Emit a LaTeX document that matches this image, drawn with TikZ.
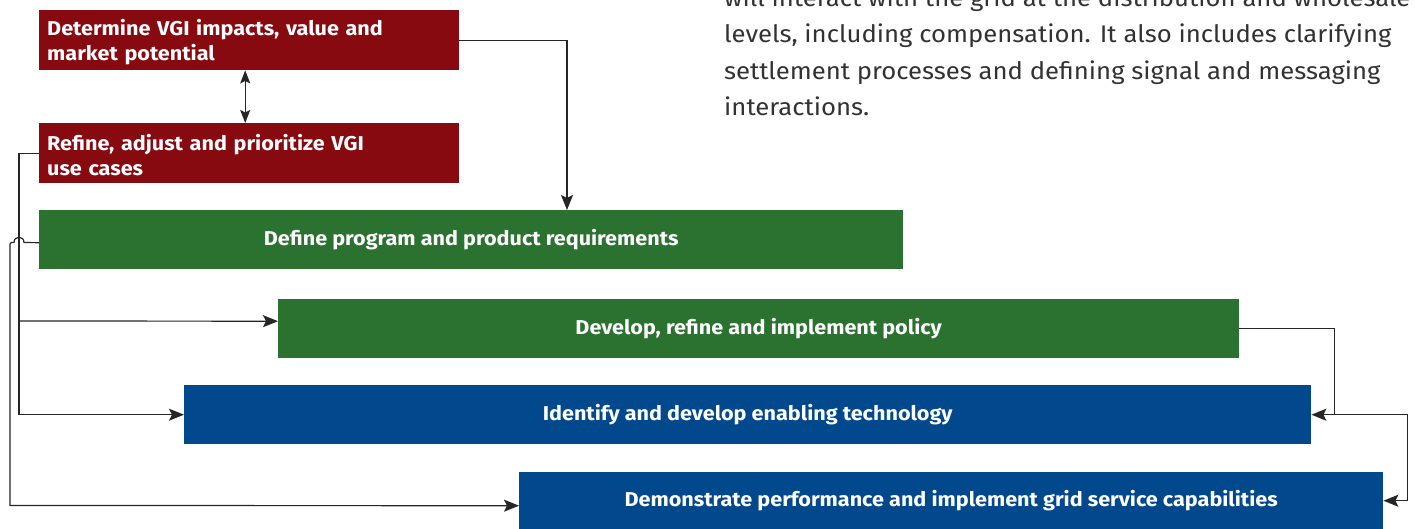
\documentclass[tikz,border=0pt]{standalone}
\usepackage{fontspec}
\setmainfont{Fira Sans}[FakeStretch=1.08]
\newfontfamily\parafont{Fira Sans}[FakeStretch=1.07]
\usetikzlibrary{arrows.meta}
\definecolor{vred}{RGB}{135,10,16}
\definecolor{vgreen}{RGB}{43,113,47}
\definecolor{vblue}{RGB}{2,72,140}
\definecolor{ptext}{RGB}{50,50,50}
\newcommand{\topstrut}{\rule{0pt}{20pt}}
\begin{document}
\begin{tikzpicture}[x=1pt,y=-1pt,
  box/.style={fill=#1, text=white, font=\bfseries\fontsize{20}{25}\selectfont, inner sep=0pt, anchor=north west},
  conn/.style={draw=black!85, line width=1.2pt},
  arr/.style={-{Stealth[length=15pt,width=12pt,inset=3pt]}},
  darr/.style={{Stealth[length=13pt,width=10pt,inset=2.5pt]}-{Stealth[length=13pt,width=10pt,inset=2.5pt]}},
  para/.style={anchor=base west, inner sep=0pt, text=ptext, font=\parafont\fontsize{24}{36}\selectfont}]
\useasboundingbox (0,0) rectangle (1415,529);
\clip (0,0) rectangle (1415,529);
\fill[white] (0,0) rectangle (1415,529);

\node[box=vred, minimum width=420pt, minimum height=60pt, text width=404pt, align=left] (A) at (39,10) {\topstrut Determine VGI impacts, value and\\market potential};
\node[box=vred, minimum width=420pt, minimum height=60pt, text width=404pt, align=left] (B) at (39,123) {\topstrut Refine, adjust and prioritize VGI\\use cases};
\node[box=vgreen, minimum width=864pt, minimum height=59pt] (C) at (39,210) {Define program and product requirements};
\node[box=vgreen, minimum width=961pt, minimum height=59pt] (D) at (278,299) {Develop, refine and implement policy};
\node[box=vblue, minimum width=1127pt, minimum height=59pt] (E) at (184,385) {Identify and develop enabling technology};
\node[box=vblue, minimum width=864pt, minimum height=57pt] (F) at (519,472) {Demonstrate performance and implement grid service capabilities};

\node[para] (P1) at (724,6.5) {will interact with the grid at the distribution and wholesale};
\node[para] (P2) at (724,43) {levels, including compensation. It also includes clarifying};
\node[para] (P3) at (724,79.5) {settlement processes and defining signal and messaging};
\node[para] (P4) at (724,116) {interactions.};

\coordinate (j1) at (19,321);

\draw[conn,darr] ([xshift=-4pt]A.south) -- ([xshift=-4pt]B.north);
\draw[conn,arr] (A.east) -| ([xshift=528pt]C.north west);
\draw[conn,arr] (B.west) -- ++(-20,0) |- (E.west);
\draw[conn,arr] (j1) -- ([yshift=7.5pt]D.west);
\draw[conn,arr] ([yshift=-3pt]C.west) -- (24,242.5) .. controls (24,235.5) and (14,235.5) .. (14,242.5) .. controls (10,242.5) .. (10,247) -- (10,505.5) -- ([yshift=-5pt]F.west);
\draw[conn,arr] (D.east) -| ([xshift=23pt]E.east) -- (E.east);
\draw[conn,arr] ([xshift=23pt]E.east) -- ([xshift=96pt]E.east) |- (F.east);
\end{tikzpicture}
\end{document}
